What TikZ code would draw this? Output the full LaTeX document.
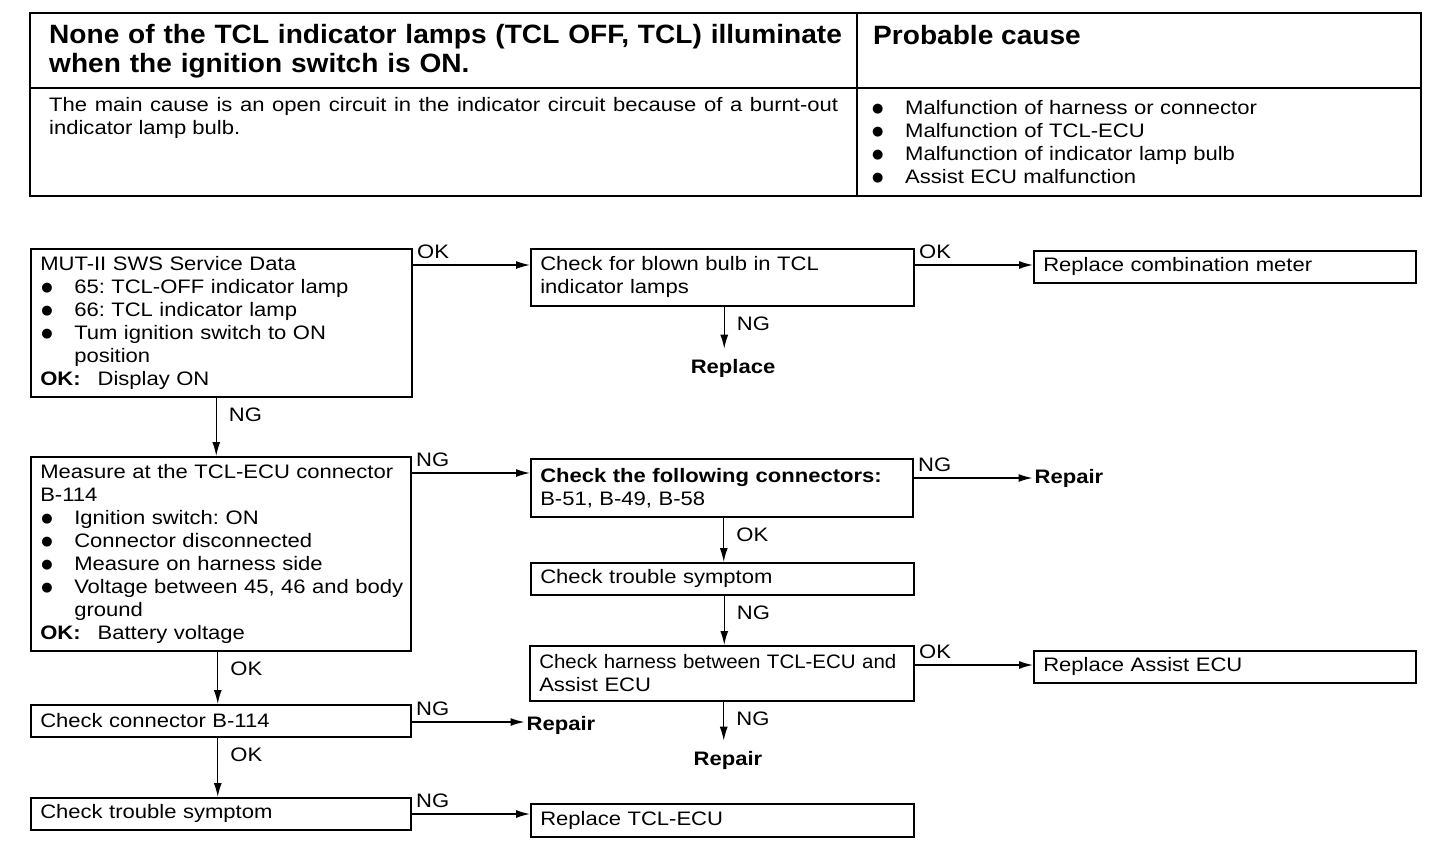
\documentclass[tikz,border=0pt]{standalone}
\usepackage{fontspec}
\setmainfont{Liberation Sans}[FakeStretch=1.13]
\newfontfamily\titlefont{Liberation Sans}[FakeStretch=1.06]
\newfontfamily\condfont{Liberation Sans}[FakeStretch=1.05]
\newfontfamily\symfont{DejaVu Sans}
\usetikzlibrary{arrows.meta}
\newcommand{\bodyfont}{\fontsize{19.5}{23}\selectfont}
\newcommand{\bul}{\makebox[34pt][l]{\hspace*{1pt}\raisebox{1.5pt}{\symfont\fontsize{13}{13}\selectfont ●}}}
\frenchspacing
\begin{document}
\frenchspacing
\begin{tikzpicture}[x=1pt,y=-1pt,
  every node/.style={font=\bodyfont\frenchspacing},
  box/.style={draw, line width=1.5pt, anchor=north west, inner xsep=9.5pt, inner ysep=0pt, align=left},
  arr/.style={line width=1.4pt, -{Latex[length=14pt,width=8pt]}},
  hlab/.style={pos=0, anchor=base west, inner sep=0pt, xshift=4pt, yshift=7pt},
  vlab/.style={pos=0, anchor=west, inner sep=0pt, xshift=12pt, yshift=-17pt},
  res/.style={font=\bodyfont\bfseries, inner sep=2pt},
  frame/.style={line width=1.6pt}]
\useasboundingbox (0,0) rectangle (1456,854);
% header table
\draw[frame] (30,13) rectangle (1421,196);
\draw[frame] (30,88) -- (1421,88);
\draw[frame] (857,13) -- (857,196);
\node[anchor=base west, inner sep=0pt, text width=800pt, align=left,
      font=\titlefont\fontsize{26.5}{29}\selectfont\bfseries] (title) at (49,43)
  {None of the TCL indicator lamps (TCL OFF, TCL) illuminate\\when the ignition switch is ON.};
\node[anchor=base west, inner sep=0pt, font=\titlefont\fontsize{26.5}{29}\selectfont\bfseries] (pc) at (873,44) {Probable cause};
\node[anchor=base west, inner sep=0pt, text width=789pt, align=justify] (desc) at (49,111)
  {The main cause is an open circuit in the indicator circuit because of a burnt-out indicator lamp bulb.};
\node[anchor=base west, inner sep=0pt, text width=540pt, align=left] (causes) at (871,114)
  {\bul Malfunction of harness or connector\\\bul Malfunction of TCL-ECU\\\bul Malfunction of indicator lamp bulb\\\bul Assist ECU malfunction};
% flow boxes
\node[box, text width=362pt, minimum height=148pt] (mut) at (30,248)
  {MUT-II SWS Service Data\\\bul 65: TCL-OFF indicator lamp\\\bul 66: TCL indicator lamp\\\bul Tum ignition switch to ON\\\hspace*{34pt}position\\\textbf{OK:}\hspace*{17pt}Display ON};
\node[box, text width=361pt, minimum height=194pt] (meas) at (30,456)
  {\mbox{Measure at the TCL-ECU connector}\\B-114\\\bul Ignition switch: ON\\\bul Connector disconnected\\\bul Measure on harness side\\\bul \mbox{Voltage between 45, 46 and body}\\\hspace*{34pt}ground\\\textbf{OK:}\hspace*{17pt}Battery voltage};
\node[box, text width=361pt, minimum height=32pt] (b114) at (30,704) {Check connector B-114};
\node[box, text width=361pt, minimum height=32pt] (trl) at (30,797) {Check trouble symptom};
\node[box, text width=364pt, minimum height=57pt] (blown) at (530,248) {Check for blown bulb in TCL\\indicator lamps};
\node[box, text width=363pt, minimum height=58pt] (cfc) at (530,458) {\textbf{Check the following connectors:}\\B-51, B-49, B-58};
\node[box, text width=364pt, minimum height=32pt] (trr) at (530,562) {Check trouble symptom};
\node[box, text width=365pt, minimum height=55pt] (harn) at (529,645) {\mbox{\condfont Check harness between TCL-ECU and}\\Assist ECU};
\node[box, text width=364pt, minimum height=33pt] (rtcl) at (530,803) {Replace TCL-ECU};
\node[box, text width=363pt, minimum height=32pt] (rmet) at (1033,250) {Replace combination meter};
\node[box, text width=363pt, minimum height=32pt] (rass) at (1033,650) {Replace Assist ECU};
% result texts
\node[res] (rpl1) at (733,368) {Replace};
\node[res] (rep1) at (1069,478) {Repair};
\node[res] (rep2) at (728,760) {Repair};
\node[res] (rep3) at (561,725) {Repair};
% connectors
\coordinate (mutR) at ([yshift=-17pt]mut.north east);
\draw[arr] (mutR) -- (mutR -| blown.west) node[hlab] (l1) {OK};
\coordinate (blR) at ([yshift=-17pt]blown.north east);
\draw[arr] (blR) -- (blR -| rmet.west) node[hlab] (l2) {OK};
\coordinate (blD) at ([xshift=2pt]blown.south);
\draw[arr, shorten >=8pt] (blD) -- (blD |- rpl1.north) node[vlab] (l3) {NG};
\coordinate (mutD) at ([xshift=-5pt]mut.south);
\draw[arr] (mutD) -- (mutD |- meas.north) node[vlab] (l4) {NG};
\coordinate (meR) at ([yshift=-17pt]meas.north east);
\draw[arr] (meR) -- (meR -| cfc.west) node[hlab] (l5) {NG};
\coordinate (cfR) at ([yshift=-20pt]cfc.north east);
\draw[arr] (cfR) -- (cfR -| rep1.west) node[hlab] (l6) {NG};
\coordinate (cfD) at ([xshift=2pt]cfc.south);
\draw[arr] (cfD) -- (cfD |- trr.north) node[vlab] (l7) {OK};
\coordinate (trD) at ([xshift=2pt]trr.south);
\draw[arr] (trD) -- (trD |- harn.north) node[vlab] (l8) {NG};
\coordinate (haR) at ([yshift=-20pt]harn.north east);
\draw[arr] (haR) -- (haR -| rass.west) node[hlab] (l9) {OK};
\coordinate (haD) at ([xshift=2pt]harn.south);
\draw[arr, shorten >=8pt] (haD) -- (haD |- rep2.north) node[vlab] (l10) {NG};
\coordinate (meD) at ([xshift=-3pt]meas.south);
\draw[arr] (meD) -- (meD |- b114.north) node[vlab] (l11) {OK};
\coordinate (bR) at ([yshift=-18pt]b114.north east);
\draw[arr] (bR) -- (bR -| rep3.west) node[hlab] (l12) {NG};
\coordinate (bD) at ([xshift=-3pt]b114.south);
\draw[arr] (bD) -- (bD |- trl.north) node[vlab] (l13) {OK};
\coordinate (tR) at ([yshift=-17pt]trl.north east);
\draw[arr] (tR) -- (tR -| rtcl.west) node[hlab] (l14) {NG};
\end{tikzpicture}
\end{document}
